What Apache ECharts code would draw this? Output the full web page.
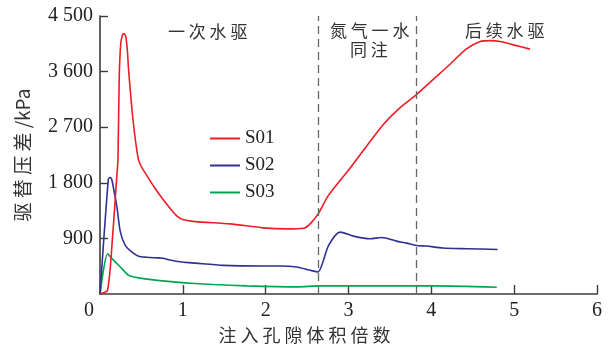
<!DOCTYPE html>
<html>
<head>
<meta charset="utf-8">
<script src="https://cdn.jsdelivr.net/npm/echarts@6/dist/echarts.min.js"></script>
<style>
  html, body { margin: 0; padding: 0; background: #fff; }
  #chart { width: 610px; height: 349px; }
</style>
</head>
<body>
<div id="chart"></div>
<script>
// Injected pore volume multiples (x) and displacement pressure difference in kPa (y)
const s01X = [0, 0.09, 0.15, 0.20, 0.217, 0.232, 0.25, 0.27, 0.29, 0.31, 0.33, 0.345, 0.398, 0.46, 0.50, 0.55, 0.65, 0.75, 0.85, 0.93, 1.0, 1.15, 1.57, 1.97, 2.25, 2.46, 2.54, 2.64, 2.76, 3.02, 3.22, 3.42, 3.62, 3.82, 4.02, 4.22, 4.42, 4.59, 4.71, 4.83, 4.99, 5.19];
const s01Y = [0, 60, 894, 1855, 2181, 3500, 4050, 4190, 4215, 4170, 3950, 3630, 2825, 2200, 2060, 1950, 1740, 1550, 1380, 1260, 1205, 1172, 1135, 1071, 1054, 1065, 1140, 1310, 1600, 2040, 2396, 2745, 3014, 3228, 3470, 3711, 3964, 4086, 4102, 4086, 4033, 3964];

const s02X = [0, 0.10, 0.12, 0.14, 0.165, 0.205, 0.245, 0.305, 0.386, 0.466, 0.56, 0.70, 0.76, 0.83, 0.99, 1.15, 1.49, 1.97, 2.17, 2.375, 2.54, 2.63, 2.76, 2.90, 3.06, 3.26, 3.40, 3.58, 3.70, 3.82, 3.94, 4.14, 4.43, 4.80];
const s02Y = [0, 1850, 1885, 1860, 1700, 1400, 1010, 786, 679, 612, 595, 585, 580, 555, 518, 500, 464, 454, 454, 438, 383, 357, 786, 1001, 937, 894, 915, 856, 824, 786, 776, 744, 733, 721];

const s03X = [0, 0.092, 0.145, 0.265, 0.345, 0.466, 0.748, 1.149, 1.37, 1.77, 2.375, 2.656, 3.02, 4.02, 4.79];
const s03Y = [0, 652, 572, 411, 303, 261, 213, 169, 153, 132, 116, 132, 132, 132, 110];

const seriesNames = ['S01', 'S02', 'S03'];
const seriesColors = ['#ee1c25', '#2e3192', '#00a651'];

// Stage boundaries (dashed) and stage captions
const stageBounds = [2.64, 3.82];
const stageTitles = ['一 次 水 驱', '氮 气 一 水', '同 注', '后 续 水 驱'];

const xName = '注 入 孔 隙 体 积 倍 数';
const yName = '驱 替 压 差 /kPa';

function pairs(xs, ys) {
  return xs.map((x, i) => [x, ys[i]]);
}
function thousands(v) {
  return String(v).replace(/\B(?=(\d{3})+(?!\d))/g, ' ');
}

const serif = '"Liberation Serif", "DejaVu Serif", serif';
const cjk = '"Noto Sans CJK SC", "Noto Sans", sans-serif';
const axisColor = '#3c3c3c';

const chart = echarts.init(document.getElementById('chart'), null, { renderer: 'canvas' });

const seriesData = [pairs(s01X, s01Y), pairs(s02X, s02Y), pairs(s03X, s03Y)];

const series = seriesData.map((d, i) => ({
  name: seriesNames[i],
  type: 'line',
  data: d,
  smooth: 0.25,
  symbol: 'none',
  lineStyle: { color: seriesColors[i], width: 1.6 },
  itemStyle: { color: seriesColors[i] },
  z: 3 - i
}));

series[0].markLine = {
  silent: true,
  symbol: 'none',
  label: { show: false },
  lineStyle: { color: '#666', type: [8, 5], width: 1.3 },
  data: stageBounds.map(v => ({ xAxis: v }))
};

chart.setOption({
  animation: false,
  backgroundColor: '#fff',
  grid: { left: 100, right: 13, top: 16, bottom: 53.5, containLabel: false },
  legend: {
    orient: 'vertical',
    left: 204,
    top: 124,
    itemWidth: 30,
    itemHeight: 14,
    itemGap: 8,
    data: seriesNames,
    itemStyle: { opacity: 0 },
    textStyle: { fontFamily: serif, fontSize: 19, color: '#222' }
  },
  xAxis: {
    type: 'value',
    min: 0,
    max: 6,
    interval: 1,
    name: xName,
    nameLocation: 'middle',
    nameGap: 32,
    nameTextStyle: { fontFamily: cjk, fontSize: 18, color: '#333', padding: [0, 88, 0, 0] },
    axisLine: { show: true, lineStyle: { color: axisColor, width: 1.6 } },
    axisTick: { show: true, inside: true, length: 9, lineStyle: { color: axisColor, width: 1.4 } },
    axisLabel: {
      margin: 7,
      fontFamily: serif,
      fontSize: 20,
      color: '#222',
      formatter: v => (v === 0 ? '{z|0}' : String(v)),
      rich: { z: { fontFamily: serif, fontSize: 20, color: '#222', padding: [0, 22, 0, 0] } }
    },
    splitLine: { show: false }
  },
  yAxis: {
    type: 'value',
    min: 0,
    max: 4500,
    interval: 900,
    name: yName,
    nameLocation: 'middle',
    nameGap: 68,
    nameRotate: 90,
    nameTextStyle: { fontFamily: cjk, fontSize: 19, color: '#333' },
    axisLine: { show: true, lineStyle: { color: axisColor, width: 1.6 } },
    axisTick: { show: true, inside: true, length: 8, lineStyle: { color: axisColor, width: 1.4 } },
    axisLabel: {
      margin: 7,
      fontFamily: serif,
      fontSize: 20,
      color: '#222',
      showMinLabel: false,
      formatter: v => thousands(v)
    },
    splitLine: { show: false }
  },
  graphic: [
    { type: 'text', left: 168, top: 23, style: { text: stageTitles[0], font: '17px ' + cjk, fill: '#333' } },
    { type: 'text', left: 330, top: 22, style: { text: stageTitles[1], font: '17px ' + cjk, fill: '#333' } },
    { type: 'text', left: 350, top: 41, style: { text: stageTitles[2], font: '17px ' + cjk, fill: '#333' } },
    { type: 'text', left: 465, top: 22, style: { text: stageTitles[3], font: '17px ' + cjk, fill: '#333' } }
  ],
  series: series
});
</script>
</body>
</html>
